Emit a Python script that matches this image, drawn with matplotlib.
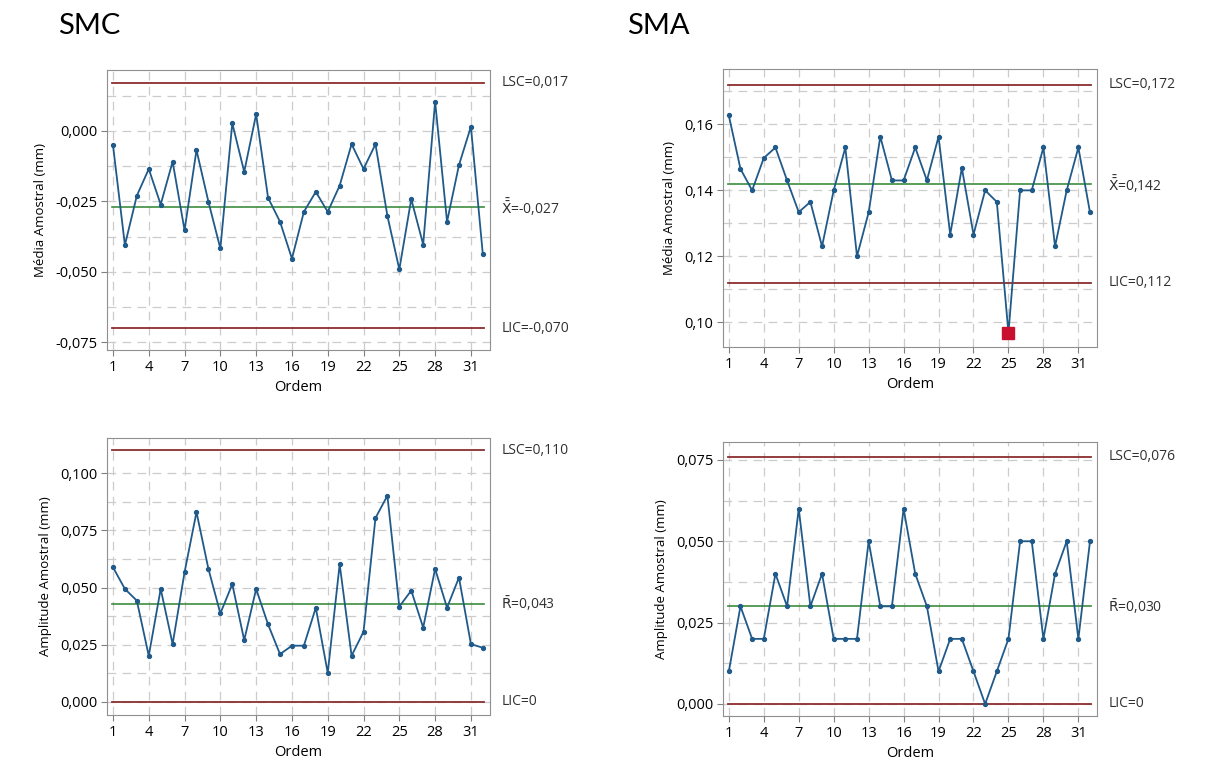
import matplotlib
matplotlib.use("Agg")
import matplotlib.pyplot as plt
import numpy as np

plt.rcParams["font.family"] = ["Open Sans", "DejaVu Sans"]

ordem = np.arange(1, 33)

# SMC - media amostral (mm)
smc_media = [-0.0050, -0.0405, -0.0230, -0.0135, -0.0261, -0.0109, -0.0352, -0.0068,
             -0.0251, -0.0417, 0.0027, -0.0145, 0.0059, -0.0237, -0.0322, -0.0453,
             -0.0287, -0.0216, -0.0287, -0.0194, -0.0047, -0.0135, -0.0047, -0.0301,
             -0.0491, -0.0242, -0.0403, 0.0104, -0.0322, -0.0121, 0.0015, -0.0438]
# SMC - amplitude amostral (mm)
smc_amp = [0.0589, 0.0494, 0.0443, 0.0202, 0.0494, 0.0253, 0.0567, 0.0830,
           0.0582, 0.0387, 0.0515, 0.0270, 0.0494, 0.0339, 0.0209, 0.0246,
           0.0246, 0.0412, 0.0127, 0.0602, 0.0202, 0.0307, 0.0804, 0.0902,
           0.0417, 0.0487, 0.0325, 0.0582, 0.0412, 0.0544, 0.0253, 0.0237]
# SMA - media amostral (mm)
sma_media = [0.1627, 0.1465, 0.1400, 0.1498, 0.1530, 0.1430, 0.1334, 0.1365,
             0.1230, 0.1400, 0.1530, 0.1200, 0.1333, 0.1563, 0.1430, 0.1430,
             0.1530, 0.1430, 0.1563, 0.1266, 0.1468, 0.1266, 0.1400, 0.1365,
             0.0968, 0.1400, 0.1400, 0.1530, 0.1230, 0.1400, 0.1530, 0.1333]
# SMA - amplitude amostral (mm)
sma_amp = [0.01, 0.03, 0.02, 0.02, 0.04, 0.03, 0.06, 0.03, 0.04, 0.02, 0.02, 0.02,
           0.05, 0.03, 0.03, 0.06, 0.04, 0.03, 0.01, 0.02, 0.02, 0.01, 0.00, 0.01,
           0.02, 0.05, 0.05, 0.02, 0.04, 0.05, 0.02, 0.05]

# control limits: (LSC, center, LIC)
smc_media_lim = (0.017, -0.027, -0.070)
smc_amp_lim = (0.110, 0.043, 0.0)
sma_media_lim = (0.172, 0.142, 0.112)
sma_amp_lim = (0.076, 0.030, 0.0)

smc_media_lbl = ("LSC=0,017", "$\\bar{\\bar{\\mathrm{X}}}$=-0,027", "LIC=-0,070")
smc_amp_lbl = ("LSC=0,110", "$\\bar{\\mathrm{R}}$=0,043", "LIC=0")
sma_media_lbl = ("LSC=0,172", "$\\bar{\\bar{\\mathrm{X}}}$=0,142", "LIC=0,112")
sma_amp_lbl = ("LSC=0,076", "$\\bar{\\mathrm{R}}$=0,030", "LIC=0")

BLUE = "#1f5a8a"
RED_LINE = "#8c2e2e"
GREEN = "#3d8c3d"
GRID = "#cccccc"

W, H = 1216, 765
fig = plt.figure(figsize=(W / 100, H / 100), dpi=100)


def box(l, t, r, b):
    return [l / W, 1 - b / H, (r - l) / W, (b - t) / H]


def chart(rect, y, lim, lbl, ylim, ymajor, yminor, fmt, ylabel, out=None):
    ax = fig.add_axes(rect)
    ax.set_xlim(0.5, 32.6)
    ax.set_ylim(*ylim)
    ax.set_xticks(np.arange(1, 32, 3))
    ax.set_yticks(ymajor)
    ax.set_yticks(yminor, minor=True)
    ax.set_yticklabels([fmt(v).replace(".", ",") for v in ymajor])
    ax.tick_params(axis="y", which="minor", length=0)
    ax.tick_params(labelsize=10.5, length=4, color="#808080", width=0.8, pad=3)
    for g in list(np.arange(1, 32, 3)):
        ax.axvline(g, color=GRID, ls=(0, (7, 5)), lw=0.9, zorder=0)
    for g in list(ymajor) + list(yminor):
        ax.axhline(g, color=GRID, ls=(0, (7, 5)), lw=0.9, zorder=0)
    for s in ax.spines.values():
        s.set_color("#909090")
    ax.plot([0.95, 32.1], [lim[0]] * 2, color=RED_LINE, lw=1.3, zorder=2)
    ax.plot([0.95, 32.1], [lim[2]] * 2, color=RED_LINE, lw=1.3, zorder=2)
    ax.plot([0.95, 32.1], [lim[1]] * 2, color=GREEN, lw=1.2, zorder=2)
    ax.plot(ordem, y, color=BLUE, lw=1.3, marker="o", ms=2.8, zorder=3)
    if out is not None:
        ax.plot(ordem[out], y[out], marker="s", ms=8, color="#c8102e", ls="none", zorder=4)
    ax.set_xlabel("Ordem", fontsize=10.5, labelpad=4)
    ax.set_ylabel(ylabel, fontsize=9.5, labelpad=6)
    tr = ax.get_yaxis_transform()
    for v, t in zip(lim, lbl):
        ax.text(1.03, v, t, transform=tr, fontsize=10, va="center", ha="left",
                color="#303030", clip_on=False)
    return ax


chart(box(107, 70, 490, 350), smc_media, smc_media_lim, smc_media_lbl,
      (-0.0777, 0.0216), [-0.075, -0.05, -0.025, 0.0],
      [-0.0625, -0.0375, -0.0125, 0.0125], lambda v: f"{v:.3f}",
      "Média Amostral (mm)")
chart(box(723, 69, 1097, 347), sma_media, sma_media_lim, sma_media_lbl,
      (0.0925, 0.1768), [0.10, 0.12, 0.14, 0.16],
      [0.11, 0.13, 0.15, 0.17], lambda v: f"{v:.2f}",
      "Média Amostral (mm)", out=24)
chart(box(107, 438, 490, 715), smc_amp, smc_amp_lim, smc_amp_lbl,
      (-0.0057, 0.1154), [0.0, 0.025, 0.05, 0.075, 0.10],
      [0.0125, 0.0375, 0.0625, 0.0875], lambda v: f"{v:.3f}",
      "Amplitude Amostral (mm)")
chart(box(723, 442, 1097, 716), sma_amp, sma_amp_lim, sma_amp_lbl,
      (-0.0037, 0.0805), [0.0, 0.025, 0.05, 0.075],
      [0.0125, 0.0375, 0.0625], lambda v: f"{v:.3f}",
      "Amplitude Amostral (mm)")

fig.text(58 / W, 1 - 26 / H, "SMC", fontsize=21, va="center", ha="left",
         family=["Lato", "DejaVu Sans"])
fig.text(627 / W, 1 - 26 / H, "SMA", fontsize=21, va="center", ha="left",
         family=["Lato", "DejaVu Sans"])

fig.savefig("out.png", dpi=100)
